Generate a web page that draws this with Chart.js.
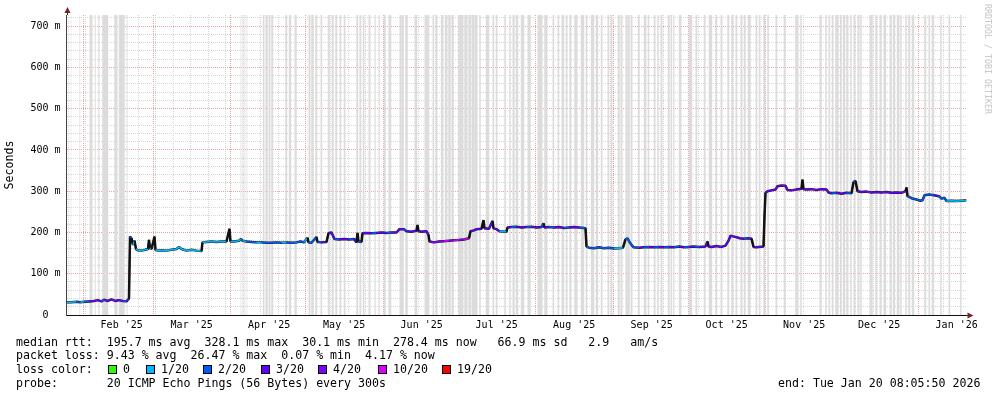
<!DOCTYPE html>
<html><head><meta charset="utf-8">
<script src="https://cdn.jsdelivr.net/npm/chart.js@4/dist/chart.umd.min.js"></script>
<style>
html,body{margin:0;padding:0;background:#fff;}
#wrap{position:relative;width:997px;height:397px;overflow:hidden;font-family:"DejaVu Sans Mono",monospace;}
#cv{position:absolute;left:0;top:0;width:997px;height:397px;}
.t{position:absolute;font-size:11.6px;line-height:14px;white-space:pre;color:#000;}
.sw{position:absolute;width:7px;height:7px;border:1px solid #000;top:365px;}
#brand{position:absolute;left:993px;top:4px;transform:rotate(90deg);transform-origin:0 0;font-size:8.3px;line-height:10px;color:#c4c4c4;white-space:pre;}
</style></head>
<body><div id="wrap">
<canvas id="cv" width="997" height="397"></canvas>
<div id="brand">RRDTOOL / TOBI OETIKER</div>
<div class="t" style="left:16px;top:335px">median rtt:  195.7 ms avg  328.1 ms max  30.1 ms min  278.4 ms now   66.9 ms sd   2.9   am/s</div>
<div class="t" style="left:16px;top:348px">packet loss: 9.43 % avg  26.47 % max  0.07 % min  4.17 % now</div>
<div class="t" style="left:16px;top:362px">loss color:</div>
<div id="lossLegend"></div>
<div class="t" style="left:16px;top:376px">probe:       20 ICMP Echo Pings (56 Bytes) every 300s</div>
<div class="t" style="left:778px;top:376px">end: Tue Jan 20 08:05:50 2026</div>
</div>
<script>
// ---------- data ----------
const lossLevels = [0, 1, 2, 3, 4, 10, 19];
const lossLabels = ["0", "1/20", "2/20", "3/20", "4/20", "10/20", "19/20"];
const lossColors = ["#26ff00", "#00b8ff", "#0059ff", "#5e00ff", "#7e00ff", "#dd00ff", "#ff0000"];

const monthLabels = ["Feb '25","Mar '25","Apr '25","May '25","Jun '25","Jul '25","Aug '25","Sep '25","Oct '25","Nov '25","Dec '25","Jan '26"];
const yTickValues = [0, 100, 200, 300, 400, 500, 600, 700];

// days since start of graph (end - 360 days)
const rttDay = [
  0,2,4,5.5,7,9,11,12.5,14,15,
  16.5,18,19.5,21,22.5,24,25,25.4,26,26.6,
  27.2,27.8,28.4,30,31.5,32.6,33,33.4,34,35.2,
  35.6,36.5,38,40,42,44,45,46,48,50,
  52,54,54.4,56,58,60,62,64,65.2,65.6,
  67,69,69.8,70.4,72,74,76,78,80,82,
  84,86,88,90,92,93.6,95,96.4,96.8,98,
  100,100.4,102,104,104.8,106,107.2,109,111,113,
  115,116,116.4,116.8,118,118.4,120,122,124,126,
  128,130,132,133.2,135,136,138,140,140.4,140.8,
  142,144,144.8,145.2,147,149,151,153,155,157,
  159,161,161.6,163,164,166,166.8,167.2,169,170.4,
  170.8,172,173.2,176,176.4,178,180,182,184,186,
  188,190,190.8,191.2,193,195,197,199,201,203,
  205,207.6,208,209,211,213,215,217,219,221,
  222.6,223.6,224.4,225.2,226,226.8,229,231,233,235,
  237,239,241,243,245,247,249,251,253,255.6,
  256.4,256.8,258,260,262,263.6,264.8,265.6,267,268.4,
  269.2,271,272.4,274,274.8,276,278.8,279.2,279.6,280.4,
  282,283.6,284.4,286,287.6,288.4,290,292,294,294.4,
  294.8,296,298,300,302,304,304.8,306,308,310,
  312,314,314.8,315.6,316.4,318,320,322,324,326,
  328,330,332,334,335.6,336,336.4,338,340,341.6,
  342.4,343.2,345,347,349,350,351.2,352,354,356,
  358,360
];
// median rtt in ms
const rttMs = [
  31,31,32,31,32,33,34,36,33,37,
  34,38,34,36,34,33,40,190,186,170,
  180,160,157,156,158,160,182,162,160,190,
  158,156,157,156,158,160,165,160,156,158,
  156,155,176,177,178,177,178,178,209,178,
  178,180,184,180,178,177,176,176,175,175,
  176,175,176,175,176,178,176,187,176,175,
  189,177,176,177,198,200,184,183,184,183,
  184,176,199,178,177,198,199,198,199,200,
  199,200,200,208,208,203,202,204,218,203,
  202,203,194,178,176,178,179,180,181,182,
  183,186,203,205,208,209,230,210,209,228,
  210,208,203,202,212,213,214,212,213,214,
  212,213,222,212,213,212,213,211,212,213,
  212,210,166,163,162,164,162,163,161,162,
  163,183,186,177,170,164,163,164,165,164,
  165,164,165,164,166,164,165,166,165,166,
  178,166,165,167,165,168,180,192,190,188,
  186,185,186,185,165,164,166,240,296,300,
  302,304,312,314,313,303,302,304,306,328,
  305,304,305,303,305,304,297,295,296,294,
  296,295,322,325,300,298,299,297,298,297,
  298,296,297,296,300,309,288,283,280,277,
  278,290,292,290,288,282,284,276,277,276,
  277,278
];
// packet loss (pings lost of 20) for each median point
const rttLoss = [
  1,1,2,1,2,3,4,3,2,4,
  3,4,3,4,2,3,3,2,1,1,
  1,1,1,1,1,1,1,1,1,1,
  1,1,1,1,1,1,1,1,1,1,
  1,1,1,1,1,1,1,1,1,1,
  1,1,2,1,2,2,1,2,2,2,
  2,1,2,2,2,2,1,2,2,2,
  2,2,3,2,3,3,2,3,3,2,
  3,2,3,2,2,3,3,2,3,3,
  2,3,3,3,2,3,3,3,3,3,
  3,3,3,4,4,4,10,4,10,4,
  10,4,3,3,3,4,3,3,3,3,
  3,3,1,1,3,2,3,3,2,3,
  3,2,3,3,2,3,3,2,3,3,
  2,3,2,2,2,2,2,2,1,1,
  2,2,2,2,2,2,3,2,3,2,
  3,2,3,2,3,2,3,2,3,3,
  10,3,3,4,3,3,3,4,3,3,
  3,2,3,3,3,3,3,4,3,3,
  3,4,3,4,3,3,4,3,3,10,
  3,3,4,3,3,4,3,2,3,3,
  2,3,2,2,3,3,4,3,3,4,
  3,3,3,4,3,10,2,2,2,2,
  2,2,2,3,2,2,2,1,1,1,
  1,1
];
// periods shaded as full-height grey bars [startDay, endDay]
const greySpans = [
  [1.6,1.9],[5.2,5.5],[7.0,7.3],[9.2,10.4],[11.3,11.7],[12.7,13.2],[14.3,16.7],[19.1,20.4],[20.9,23.3],[24.0,24.4],
  [69.6,69.9],[70.4,70.7],[71.2,71.5],[72.0,72.3],
  [78.5,79.2],[79.6,80.5],[80.8,81.6],[81.9,82.7],[87.5,88.3],[88.9,89.9],[91.2,92.1],[96.8,97.6],[97.9,98.8],[99.5,100.3],
  [101.6,102.3],[104.5,105.3],[106.1,106.9],[107.5,108.3],[109.2,109.9],[110.9,111.6],[115.9,116.7],[117.2,117.9],[118.5,119.2],
  [120.8,121.6],[123.2,123.7],[124.8,125.3],[126.9,127.7],[128.8,129.9],[133.2,133.9],[134.1,134.9],[135.5,136.5],[139.2,140.3],[143.2,144.3],
  [144.4,145.1],[146.4,147.1],[147.7,148.4],[149.7,150.8],[151.3,152.4],[152.7,153.7],[154.0,154.8],[156.7,158.8],[159.1,160.4],
  [160.7,161.7],[162.0,163.1],[163.3,164.4],[165.1,165.7],[167.7,169.1],[170.4,171.1],[171.7,172.4],[175.1,175.7],[177.1,177.7],
  [178.4,179.3],[179.7,180.7],[181.7,183.1],[184.4,185.7],[188.4,190.4],[191.1,192.4],[194.4,195.1],[196.4,197.1],[198.0,199.1],
  [199.7,200.4],[201.1,202.0],[203.1,204.4],[205.7,207.1],[207.7,208.4],[209.7,211.1],[211.7,212.7],[213.7,214.4],[216.4,217.1],[217.7,218.4],
  [220.5,221.3],[221.6,222.4],[223.6,224.3],[224.5,225.3],[225.6,226.4],[228.5,229.3],[230.9,232.0],[232.5,233.1],[234.9,235.6],
  [236.3,236.9],[237.6,238.4],[240.5,241.3],[241.6,242.3],[242.7,243.2],[244.9,246.0],[248.9,250.3],[251.6,252.3],[254.9,255.6],
  [256.9,258.3],[259.6,260.3],[261.6,262.4],[264.3,265.1],[265.9,266.7],[267.6,268.3],[269.6,270.4],[270.9,271.7],[272.5,273.6],
  [275.6,276.3],[276.9,277.6],[278.7,279.5],[280.3,280.9],[283.6,284.3],[286.9,287.6],
  [291.5,292.8],[293.5,294.1],[301.2,302.1],[303.5,304.1],[304.8,305.5],[306.1,306.8],[307.5,308.8],[309.5,310.1],[310.5,311.5],
  [311.9,312.8],[313.5,314.1],[314.8,315.5],[316.4,317.2],[317.5,318.1],[321.2,322.5],[323.5,324.4],[325.2,326.1],[326.8,327.9],
  [329.2,330.1],[330.5,331.5],[332.1,333.2],[333.5,334.1],[335.5,336.1],[336.8,337.5],[338.1,339.1],[343.1,343.9],[344.8,345.5],
  [346.1,347.1],[349.5,350.1],[352.8,353.5],[357.5,358.1]
];

// ---------- time axis helpers ----------
const END_MS = Date.UTC(2026,0,20,8,5,50);
const SPAN_DAYS = 360;
const START_MS = END_MS - SPAN_DAYS*86400000;
const dayOf = (y,m,d) => (Date.UTC(y,m,d) - START_MS)/86400000;
const monthStarts = [];
for (let i=0;i<12;i++){ const y = 2025 + Math.floor((1+i)/12); const m=(1+i)%12; monthStarts.push(dayOf(y,m,1)); }
const weekLines = [];
for (let v = dayOf(2025,0,26); v < SPAN_DAYS; v += 7) weekLines.push(v);   // Sundays
const Y_MAX = 727;

// ---------- legend swatches ----------
const swX = [108,146,203,261,318,378,442];
const lbX = [123,161,218,276,333,393,457];
const ll = document.getElementById('lossLegend');
lossColors.forEach((c,i)=>{
  const s=document.createElement('div'); s.className='sw'; s.style.left=swX[i]+'px'; s.style.background=c; ll.appendChild(s);
  const t=document.createElement('div'); t.className='t'; t.style.left=lbX[i]+'px'; t.style.top='362px'; t.textContent=lossLabels[i]; ll.appendChild(t);
});

// ---------- datasets ----------
const rttPts = rttDay.map((d,i)=>({x:d, y:rttMs[i]}));
const lossColorOf = l => lossColors[lossLevels.indexOf(l)];
const barPts = [];
greySpans.forEach(([s,e])=>{ barPts.push({x:s,y:0},{x:s,y:Y_MAX},{x:e,y:Y_MAX},{x:e,y:0}); });

const MAJOR = '#eaa3a3';
const MINOR = '#d6d6d6';

const arrows = {
  id:'arrows',
  afterDraw(chart){
    const {ctx, chartArea:a} = chart;
    ctx.save();
    ctx.strokeStyle='#333'; ctx.lineWidth=1;
    const lx=Math.round(a.left)+0.5, by=Math.round(a.bottom)+0.5;
    ctx.beginPath(); ctx.moveTo(lx, a.top); ctx.lineTo(lx, a.top-4); ctx.stroke();
    ctx.beginPath(); ctx.moveTo(a.right, by); ctx.lineTo(a.right+4, by); ctx.stroke();
    ctx.fillStyle='#7f1f1f';
    ctx.beginPath(); ctx.moveTo(lx, a.top-8); ctx.lineTo(lx-3, a.top-2); ctx.lineTo(lx+3, a.top-2); ctx.closePath(); ctx.fill();
    ctx.beginPath(); ctx.moveTo(a.right+7, by); ctx.lineTo(a.right+1, by-3); ctx.lineTo(a.right+1, by+3); ctx.closePath(); ctx.fill();
    ctx.restore();
  }
};

new Chart(document.getElementById('cv'), {
  type:'line',
  data:{ datasets:[
    { data: rttPts, order:0, borderWidth:1.6, pointRadius:0, tension:0, fill:false, borderJoinStyle:'bevel',
      segment:{ borderColor: ctx => {
        const dx=Math.abs(ctx.p1.x-ctx.p0.x), dy=Math.abs(ctx.p1.y-ctx.p0.y);
        return dy > 3*dx ? '#111' : lossColorOf(rttLoss[ctx.p0DataIndex]);
      }}},
    { data: rttPts, order:1, borderWidth:2.5, borderColor:'#1b1b1b', pointRadius:0, tension:0, fill:false, borderJoinStyle:'bevel' },
    { data: barPts, order:2, borderWidth:0, borderColor:'rgba(0,0,0,0)', backgroundColor:'#dcdcdc', pointRadius:0, tension:0, fill:'origin' }
  ]},
  options:{
    responsive:false, animation:false, devicePixelRatio:1,
    layout:{ padding:{ left:0, right:30.5, top:15, bottom:0 } },
    plugins:{ legend:{display:false}, tooltip:{enabled:false} },
    scales:{
      x:{ type:'linear', min:0, max:SPAN_DAYS,
        afterFit(s){ s.height = 82; },
        afterBuildTicks(s){
          const t=[];
          weekLines.forEach(v=>t.push({value:v, kind:'w'}));
          monthStarts.forEach(v=>t.push({value:v, kind:'m'}));
          monthStarts.forEach((v,i)=>{ const p=v+15.4; if (p<SPAN_DAYS) t.push({value:p, kind:'l', text:monthLabels[i]}); });
          t.sort((a,b)=>a.value-b.value);
          s.ticks=t;
        },
        ticks:{ autoSkip:false, maxRotation:0, padding:4, color:'#000',
          font:{ family:'"DejaVu Sans Mono", monospace', size:10 },
          callback:(v,i,ticks)=> ticks[i].kind==='l' ? ticks[i].text : '' },
        grid:{ drawTicks:false, lineWidth:1,
          color: c => c.tick && c.tick.kind==='m' ? MAJOR : (c.tick && c.tick.kind==='w' ? MINOR : 'rgba(0,0,0,0)') },
        border:{ display:true, color:'#111', width:1, dash:[1,1] }
      },
      y:{ type:'linear', min:0, max:Y_MAX,
        afterFit(s){ s.width = 66.5; },
        afterBuildTicks(s){ const t=[]; for(let v=0; v<=Y_MAX; v+=20) t.push({value:v}); s.ticks=t; },
        ticks:{ autoSkip:false, padding:6, color:'#000', font:{ family:'"DejaVu Sans Mono", monospace', size:10 },
          callback:v => yTickValues.includes(v) ? (v===0 ? '0  ' : v+' m') : '' },
        grid:{ drawTicks:false, lineWidth:1, color: c => (c.tick && c.tick.value%100===0) ? MAJOR : MINOR },
        border:{ display:true, color:'#444', width:1, dash:[1,1] },
        title:{ display:true, text:'Seconds', color:'#000', padding:{top:3,bottom:0},
          font:{ family:'"DejaVu Sans Mono", monospace', size:11.6 } }
      }
    }
  },
  plugins:[arrows]
});
</script>
</body></html>
